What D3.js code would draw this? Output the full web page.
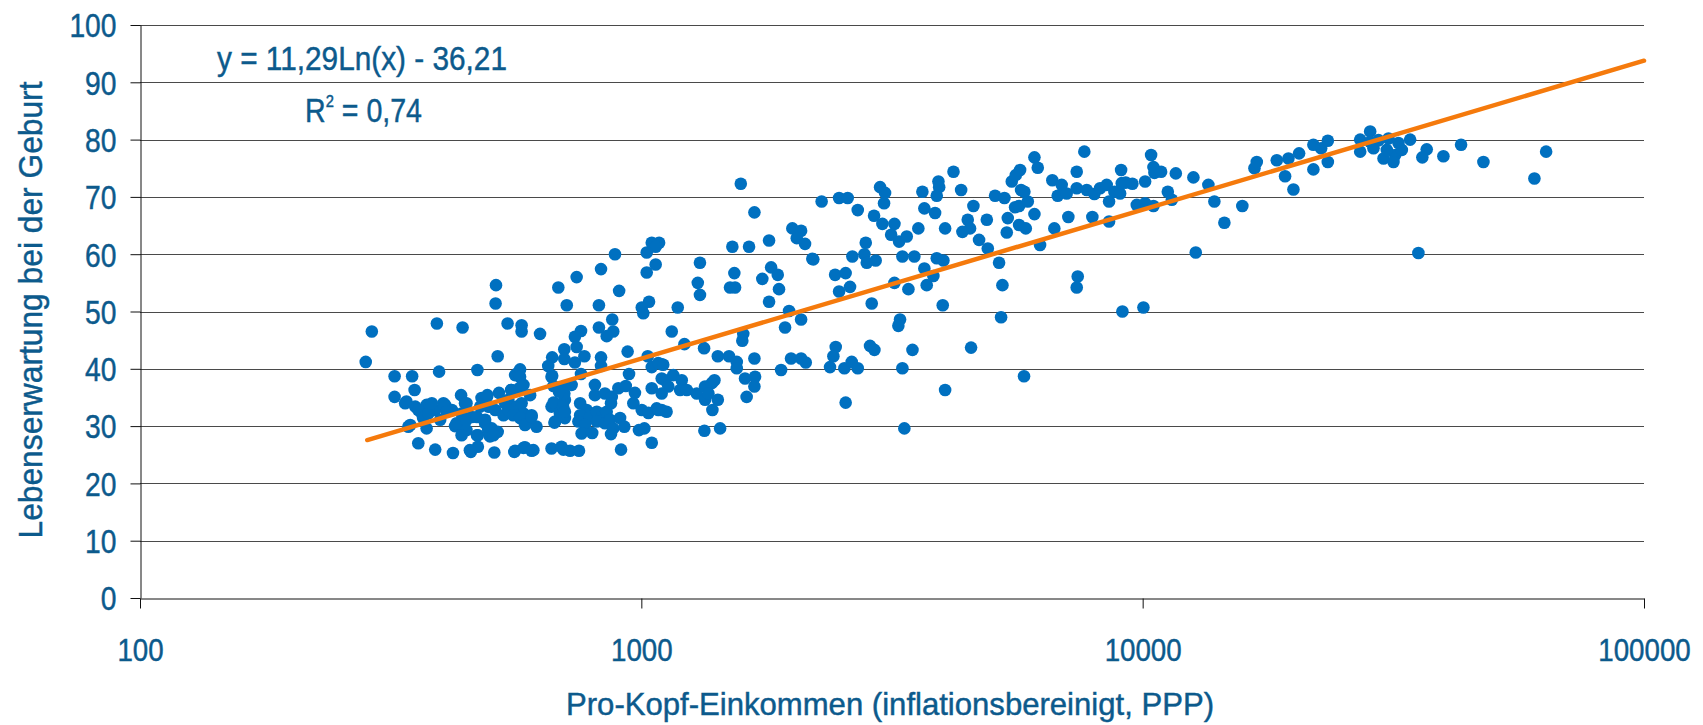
<!DOCTYPE html>
<html>
<head>
<meta charset="utf-8">
<script src="https://cdn.jsdelivr.net/npm/d3@7"></script>
<style>
  html, body { margin: 0; padding: 0; background: #fff; }
  svg { display: block; }
  .lbl { font-family: "Liberation Sans Narrow", "Arial Narrow", "Liberation Sans", Arial, sans-serif; fill: #0c5a8c; stroke: #0c5a8c; stroke-width: 0.45px; }
</style>
</head>
<body>
<svg id="chart" width="1703" height="725"></svg>
<script>
// ---- data ----
const income = [
 290,282,391,440,541,512,513,517,395,471,322,349,322,353,340,354,373,388,406,419,437,445,365,397,343,373,425,442,459,480,492,499,520,550,511,531,543,488,503,517,499,472,359,388,421,457,472,509,558,560,
 338,359,367,376,382,346,403,409,448,438,428,448,448,470,438,493,477,495,470,488,495,507,555,564,568,582,571,582,604,591,662,673,704,688,673,704,455,586,609,699,
 1049,1085,1068,1025,1068,1025,886,831,743,683,903,710,823,1036,1002,1009,577,577,628,875,823,879,853,758,737,743,702,664,702,737,770,831,652,831,573,573,664,758,939,945,1030,1049,1098,1098,
 551,577,600,668,702,726,702,685,808,808,846,873,900,931,971,1049,535,543,577,555,573,586,618,604,662,668,698,704,671,755,778,755,749,790,815,834,815,846,772,760,798,870,853,866,879,870,907,925,964,1002,1033,1073,1098,989,1014,1049,560,582,604,662,693,721,751,911,
 1579,1681,2001,2083,2042,2121,2193,1519,1640,1798,1309,1533,1503,1538,1296,1309,1743,1815,1871,1882,1798,1182,1971,1935,2083,1150,1219,1334,1597,1590,1421,1496,1550,1550,1681,1989,2083,2128,1900,1610,1686,1681,1622,1081,1106,1115,1158,1132,1204,1195,1232,1098,1081,1123,1290,1340,1382,1399,1340,1421,1386,1361,1336,1436,
 2289,2480,2580,2702,2994,3063,3049,2912,3026,3198,3150,3267,3384,3569,2803,2786,2816,2934,2636,2203,3317,3504,2435,2556,2608,2480,3198,3410,3669,3824,3709,3884,4005,2881,3992,3281,3256,2859,2917,3474,4547,2442,2416,2379,2541,2628,2702,3317,2556,4036,3347,
 4194,4344,3636,3914,3927,3884,3669,3854,4036,4596,4478,4526,4370,4717,4910,4888,5077,5300,5171,5251,5219,
 5481,5583,5695,5721,5808,5566,5670,5901,5382,5357,5670,5846,6083,6083,6177,6604,6242,6665,6894,6769,7054,7108,7387,7650,7387,7735,8010,8222,7937,7421,7387,8478,8570,8570,8782,9016,9085,9253,9057,9539,9734,10113,10508,10113,10395,10508,10556,10884,11224,11433,11645,12624,12761,9112,10035,5799,
 13523,13901,14555,15805,16711,16888,18515,19235,19532,19986,20512,21905,22699,23406,21905,23406,27158,27158,28430,28430,28868,29540,30228,30927,31889,32378,30690,32884,31645,
 34159,36864,36126,39799,43166,47831,60450,63795,35481
];
const lifeExp = [
 46.5,41.2,47.9,47.2,47.9,51.4,54.6,42.2,39.5,39.8,38.7,38.7,35.1,36.3,34.3,33.4,33.7,32.8,33.7,32.8,35.4,34.0,32.2,31.1,29.9,29.6,30.0,29.6,31.6,34.9,35.1,33.4,35.8,36.3,32.8,31.9,34.6,30.5,29.6,29.0,28.2,28.4,27.0,25.9,25.3,25.5,26.4,25.4,25.5,38.9,
 34.0,32.8,31.4,32.2,34.0,30.2,34.0,32.5,34.0,32.2,30.5,31.1,29.3,28.4,28.4,35.4,33.4,33.4,31.6,31.1,29.3,28.4,32.2,33.4,39.3,37.2,36.6,32.2,31.9,30.5,38.6,34.0,34.6,32.2,30.8,31.4,25.8,26.3,25.8,25.9,
 62.0,62.0,61.3,60.3,58.2,56.8,60.0,57.4,56.0,54.2,53.6,51.1,51.1,51.7,50.7,49.7,47.6,46.5,46.1,48.6,47.2,46.5,45.7,46.6,45.6,43.8,43.4,42.0,41.7,41.1,42.2,42.0,40.5,40.5,39.9,38.6,38.8,39.1,43.0,39.1,42.2,40.3,40.8,38.3,
 36.3,36.9,35.4,37.0,36.9,37.2,35.7,36.0,37.2,35.4,35.7,35.1,36.6,37.0,35.8,36.6,34.0,32.8,34.0,31.9,31.4,30.2,29.9,31.6,33.4,34.1,33.4,32.5,30.6,34.0,32.8,31.9,30.8,31.6,32.5,31.6,30.8,30.5,30.2,28.7,28.8,34.0,32.5,31.1,29.6,28.6,31.4,29.9,34.0,32.8,32.3,33.1,32.8,29.3,29.6,27.1,25.7,26.2,25.7,26.1,26.4,25.7,25.7,25.9,
 72.3,67.3,64.5,64.1,62.8,61.8,59.2,61.3,61.3,62.4,58.5,56.7,54.2,54.2,55.0,52.9,55.7,57.7,56.4,53.9,51.7,50.7,50.1,47.2,48.6,46.5,44.3,43.6,46.1,44.9,42.2,42.2,41.2,40.1,41.8,41.8,41.8,41.1,39.8,38.3,38.6,36.9,35.1,41.0,40.7,38.0,38.9,36.9,38.0,36.3,36.3,35.7,32.8,32.5,35.7,36.9,37.5,38.0,34.6,34.6,32.8,35.7,29.2,29.6,
 69.2,69.8,69.8,67.7,71.7,70.7,68.9,66.7,65.3,65.3,63.4,62.2,63.1,64.5,62.0,60.0,58.5,58.9,59.6,59.1,59.6,59.6,56.4,56.7,54.3,53.5,55.0,53.9,57.5,56.2,54.6,59.3,58.9,51.4,51.1,48.6,47.5,44.0,43.3,43.3,43.7,43.8,42.2,40.3,40.1,41.2,40.1,40.1,34.1,36.3,29.6,
 74.4,71.2,70.9,72.7,71.7,70.2,68.0,67.2,64.5,68.4,66.0,64.5,63.9,62.5,61.0,66.0,70.2,69.8,58.5,54.6,49.0,
 72.7,73.8,74.7,71.2,70.9,68.2,68.4,69.2,66.3,63.8,65.1,64.5,67.0,76.9,75.1,72.9,61.6,64.5,72.1,70.2,70.6,66.5,74.4,77.9,71.5,71.2,70.5,71.5,66.5,56.1,54.2,72.1,69.2,65.7,70.9,70.6,72.4,72.5,74.7,72.3,68.6,68.9,68.4,72.7,77.3,75.2,74.2,74.4,70.9,69.5,74.1,73.4,60.3,50.0,50.7,38.7,
 72.1,69.2,65.5,68.4,75.0,76.1,76.4,73.6,76.7,71.3,77.6,79.1,78.5,79.8,74.8,76.1,80.0,77.9,81.4,79.6,78.5,79.9,76.7,80.2,77.3,79.4,78.2,78.2,76.1,
 80.0,78.3,76.9,77.1,79.1,76.1,73.2,77.9,60.2
];
// trendline shown in the chart: y = 11,29 Ln(x) - 36,21
const trendCoef = [11.29, -36.21];
const trendRange = [284, 100000];
const xTicks = [100, 1000, 10000, 100000];
const yTicks = [0, 10, 20, 30, 40, 50, 60, 70, 80, 90, 100];
const xTitle = "Pro-Kopf-Einkommen (inflationsbereinigt, PPP)";
const yTitle = "Lebenserwartung bei der Geburt";
const eqText = "y = 11,29Ln(x) - 36,21";
const r2Text = " = 0,74";

// ---- drawing ----
const svg = d3.select("#chart");
const x = d3.scaleLog().domain([100, 100000]).range([140, 1644]);
const y = d3.scaleLinear().domain([0, 100]).range([598, 25]);
const textColor = "#0c5a8c";
const fs = 33;

// gridlines
svg.append("g").selectAll("line").data(yTicks.filter(d => d > 0)).join("line")
  .attr("x1", 140).attr("x2", 1644)
  .attr("y1", d => Math.round(y(d)) + 0.5).attr("y2", d => Math.round(y(d)) + 0.5)
  .attr("stroke", "#4a4a4a").attr("stroke-width", 1);

// y axis
const yAxis = svg.append("g").attr("transform", "translate(140.5,0)")
  .call(d3.axisLeft(y).tickValues(yTicks).tickSize(10).tickSizeOuter(0).tickPadding(14));
yAxis.select(".domain").attr("stroke", "#111");
yAxis.selectAll(".tick line").attr("stroke", "#111");
yAxis.selectAll("text").attr("class", "lbl").attr("font-size", fs).attr("fill", textColor)
  .attr("dy", "0.36em")
  .attr("textLength", d => String(d).length * 15.7).attr("lengthAdjust", "spacingAndGlyphs");

// x axis
const xAxis = svg.append("g").attr("transform", "translate(0,598.5)")
  .call(d3.axisBottom(x).tickValues(xTicks).tickFormat(d3.format("d")).tickSize(10).tickSizeOuter(0));
xAxis.select(".domain").attr("stroke", "#111");
xAxis.selectAll(".tick line").attr("stroke", "#111");
xAxis.selectAll("text").attr("class", "lbl").attr("font-size", 31).attr("fill", textColor)
  .attr("y", 62).attr("dy", 0)
  .attr("textLength", d => String(d).length * 15.4).attr("lengthAdjust", "spacingAndGlyphs");

// points
svg.append("g").selectAll("circle").data(income.map((d, i) => [d, lifeExp[i]])).join("circle")
  .attr("cx", d => x(d[0])).attr("cy", d => y(d[1])).attr("r", 6.3)
  .attr("fill", "#0070c0");

// trendline
svg.append("path")
  .datum(trendRange.map(v => [v, trendCoef[0] * Math.log(v) + trendCoef[1]]))
  .attr("d", d3.line().x(d => x(d[0])).y(d => y(d[1])))
  .attr("fill", "none").attr("stroke", "#f57a0c").attr("stroke-width", 4.5).attr("stroke-linecap", "round");

// equation
svg.append("text").attr("class", "lbl").attr("x", 217).attr("y", 70).attr("font-size", fs)
  .attr("textLength", 290).attr("lengthAdjust", "spacingAndGlyphs").text(eqText);
const r2 = svg.append("text").attr("class", "lbl").attr("x", 305).attr("y", 122).attr("font-size", fs)
  .attr("textLength", 117).attr("lengthAdjust", "spacingAndGlyphs");
r2.append("tspan").text("R");
r2.append("tspan").attr("font-size", 17).attr("dy", -15).text("2");
r2.append("tspan").attr("dy", 15).text(r2Text);

// axis titles
svg.append("text").attr("class", "lbl").attr("x", 890).attr("y", 715).attr("font-size", 32)
  .attr("text-anchor", "middle").attr("textLength", 648).attr("lengthAdjust", "spacingAndGlyphs").text(xTitle);
svg.append("text").attr("class", "lbl").attr("transform", "translate(42,310) rotate(-90)")
  .attr("font-size", fs).attr("text-anchor", "middle")
  .attr("textLength", 457).attr("lengthAdjust", "spacingAndGlyphs").text(yTitle);
</script>
</body>
</html>
